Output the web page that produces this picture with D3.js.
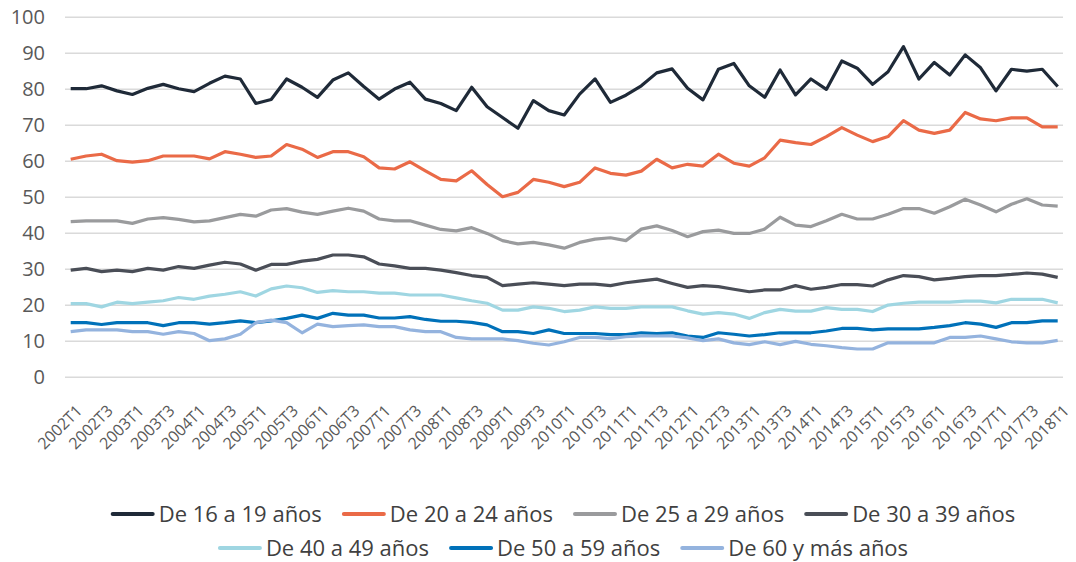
<!DOCTYPE html>
<html>
<head>
<meta charset="utf-8">
<script src="https://cdn.jsdelivr.net/npm/d3@7"></script>
<style>
  html, body { margin: 0; padding: 0; background: #ffffff; }
  svg { display: block; font-family: "Open Sans", "Noto Sans", sans-serif; }
</style>
</head>
<body>
<svg id="chart" width="1076" height="562"></svg>
<script>
// Quarterly periods, 2002T1 .. 2018T1
const quarters = [
  "2002T1","2002T2","2002T3","2002T4","2003T1","2003T2","2003T3","2003T4",
  "2004T1","2004T2","2004T3","2004T4","2005T1","2005T2","2005T3","2005T4",
  "2006T1","2006T2","2006T3","2006T4","2007T1","2007T2","2007T3","2007T4",
  "2008T1","2008T2","2008T3","2008T4","2009T1","2009T2","2009T3","2009T4",
  "2010T1","2010T2","2010T3","2010T4","2011T1","2011T2","2011T3","2011T4",
  "2012T1","2012T2","2012T3","2012T4","2013T1","2013T2","2013T3","2013T4",
  "2014T1","2014T2","2014T3","2014T4","2015T1","2015T2","2015T3","2015T4",
  "2016T1","2016T2","2016T3","2016T4","2017T1","2017T2","2017T3","2017T4",
  "2018T1"
];

// Only every second quarter is labelled on the axis
const xTickLabels = [
  "2002T1","2002T3","2003T1","2003T3","2004T1","2004T3","2005T1","2005T3",
  "2006T1","2006T3","2007T1","2007T3","2008T1","2008T3","2009T1","2009T3",
  "2010T1","2010T3","2011T1","2011T3","2012T1","2012T3","2013T1","2013T3",
  "2014T1","2014T3","2015T1","2015T3","2016T1","2016T3","2017T1","2017T3",
  "2018T1"
];

const yTicks = [0, 10, 20, 30, 40, 50, 60, 70, 80, 90, 100];

const seriesNames = [
  "De 16 a 19 años", "De 20 a 24 años", "De 25 a 29 años", "De 30 a 39 años",
  "De 40 a 49 años", "De 50 a 59 años", "De 60 y más años"
];

const seriesColors = ["#1f2a38", "#ea6a47", "#9a9b9d", "#4a4e57", "#9fd6e2", "#0071b9", "#94b3de"];

const age16to19 = [
  80,80,80.8,79.4,78.4,80.1,81.2,80,79.2,81.5,
  83.5,82.7,75.9,77,82.7,80.4,77.6,82.4,84.4,80.6,
  77.1,79.9,81.8,77.1,75.9,73.9,80.4,75,72,69,
  76.7,73.9,72.7,78.5,82.7,76.2,78.2,80.8,84.4,85.5,
  80.1,76.9,85.4,87,80.8,77.6,85.2,78.3,82.7,79.8,
  87.7,85.7,81.2,84.7,91.7,82.7,87.3,83.8,89.4,85.8,
  79.4,85.4,84.9,85.4,80.6
];

const age20to24 = [
  60.4,61.3,61.8,60,59.6,60,61.3,61.3,61.3,60.5,
  62.5,61.8,60.9,61.3,64.5,63.2,60.9,62.5,62.5,61.1,
  58,57.7,59.7,57.2,54.8,54.4,57.2,53.4,50,51.2,
  54.8,54,52.8,54,58,56.5,56,57.1,60.4,58,
  59,58.5,61.8,59.3,58.5,60.8,65.7,65,64.5,66.7,
  69.2,67.1,65.3,66.7,71.1,68.5,67.6,68.5,73.4,71.6,
  71.1,71.9,71.9,69.4,69.4
];

const age25to29 = [
  43.1,43.3,43.3,43.3,42.6,43.8,44.2,43.7,43,43.3,
  44.2,45.1,44.6,46.3,46.7,45.7,45.1,46,46.8,46,
  43.8,43.3,43.3,42.1,40.9,40.5,41.4,39.8,37.8,36.9,
  37.3,36.6,35.7,37.3,38.2,38.6,37.8,41,41.9,40.6,
  38.9,40.3,40.7,39.8,39.8,41,44.3,42.1,41.7,43.3,
  45.1,43.8,43.8,45.1,46.7,46.7,45.4,47.2,49.3,47.7,
  45.8,47.9,49.4,47.7,47.4
];

const age30to39 = [
  29.6,30.1,29.2,29.6,29.2,30.1,29.6,30.6,30.1,31,
  31.8,31.3,29.6,31.2,31.2,32.1,32.6,33.8,33.8,33.3,
  31.3,30.8,30.1,30.1,29.6,28.9,28.1,27.6,25.3,25.7,
  26.1,25.7,25.3,25.7,25.7,25.3,26.1,26.6,27.1,25.9,
  24.8,25.3,25,24.3,23.6,24.1,24.1,25.3,24.3,24.8,
  25.6,25.6,25.2,26.9,28.1,27.8,26.9,27.3,27.8,28.1,
  28.1,28.4,28.8,28.5,27.6
];

const age40to49 = [
  20.3,20.3,19.4,20.7,20.3,20.7,21.1,22,21.5,22.4,
  22.9,23.6,22.4,24.4,25.2,24.7,23.4,23.9,23.6,23.6,
  23.2,23.2,22.7,22.7,22.7,21.9,21.1,20.4,18.5,18.5,
  19.4,19,18.1,18.5,19.4,19,19,19.4,19.4,19.4,
  18.3,17.4,17.8,17.4,16.2,17.8,18.7,18.2,18.2,19.2,
  18.7,18.7,18.1,19.9,20.4,20.7,20.7,20.7,21,21,
  20.5,21.5,21.5,21.5,20.5
];

const age50to59 = [
  15,15,14.5,15,15,15,14.2,15,15,14.6,
  15,15.5,15,15.5,16.2,17.1,16.2,17.6,17.1,17.1,
  16.3,16.3,16.7,15.9,15.4,15.4,15.1,14.4,12.5,12.5,
  12,13,12,12,12,11.7,11.7,12.2,12,12.2,
  11.3,10.9,12.2,11.8,11.3,11.7,12.2,12.2,12.2,12.7,
  13.4,13.4,13,13.3,13.3,13.3,13.7,14.2,15,14.6,
  13.7,15,15,15.5,15.5
];

const age60plus = [
  12.5,13,13,13,12.5,12.5,11.8,12.5,12,10,
  10.5,11.8,15,15.7,15,12.2,14.6,13.9,14.2,14.4,
  13.9,13.9,13,12.5,12.5,10.9,10.5,10.5,10.5,10,
  9.3,8.8,9.7,10.9,10.9,10.6,11.1,11.3,11.3,11.3,
  10.8,10,10.5,9.4,8.9,9.7,8.9,9.8,9,8.6,
  8.1,7.7,7.7,9.4,9.4,9.4,9.4,10.9,10.9,11.3,
  10.5,9.7,9.4,9.4,10.1
];

const seriesValues = [age16to19, age20to24, age25to29, age30to39, age40to49, age50to59, age60plus];

const series = seriesNames.map((name, i) => ({
  name,
  color: seriesColors[i],
  points: quarters.map((q, j) => ({ q, v: seriesValues[i][j] }))
}));

// ---- layout
const gridLeft = 65, gridRight = 1063;
const plotTop = 16.7, plotBottom = 376.7;

const svg = d3.select("#chart");

const x = d3.scalePoint().domain(quarters).range([70.7, 1057.7]);
const y = d3.scaleLinear().domain([0, 100]).range([plotBottom, plotTop]);

// y axis with horizontal gridlines
const yAxis = svg.append("g")
  .attr("transform", `translate(${gridLeft},0)`)
  .call(d3.axisLeft(y).tickValues(yTicks).tickSize(-(gridRight - gridLeft)).tickPadding(20));
yAxis.select(".domain").remove();
yAxis.selectAll(".tick line").attr("stroke", "#dadada").attr("stroke-width", 1.5);
yAxis.selectAll(".tick text")
  .attr("fill", "#595959")
  .style("font-size", "20px")
  .style("font-family", "'Open Sans', sans-serif");

// x axis: quarter labels turned 45 degrees
const xAxis = svg.append("g")
  .attr("transform", `translate(0,${plotBottom})`)
  .call(d3.axisBottom(x).tickValues(xTickLabels).tickSize(0).tickPadding(0));
xAxis.select(".domain").remove();
xAxis.selectAll(".tick text")
  .attr("fill", "#595959")
  .style("font-size", "16px")
  .style("font-family", "'Open Sans', sans-serif")
  .attr("text-anchor", "end")
  .attr("dy", null)
  .attr("y", 0)
  .attr("transform", "translate(12,35) rotate(-45)");

// series lines
const line = d3.line()
  .x(d => x(d.q))
  .y(d => y(d.v));

svg.append("g")
  .selectAll("path")
  .data(series)
  .join("path")
  .attr("fill", "none")
  .attr("stroke", d => d.color)
  .attr("stroke-width", 3.2)
  .attr("stroke-linejoin", "round")
  .attr("d", d => line(d.points));

// legend, two centred rows
const legendRows = [[0, 1, 2, 3], [4, 5, 6]];
const legendY = [514, 548];
const legendCenter = 564;
const swatchW = 40, swatchGap = 6, itemGap = 22;

const legend = svg.append("g");
legendRows.forEach((row, r) => {
  const rowG = legend.append("g");
  let cx = 0;
  row.forEach(idx => {
    const item = rowG.append("g").attr("transform", `translate(${cx},0)`);
    item.append("line")
      .attr("x1", 0).attr("x2", swatchW)
      .attr("y1", 0).attr("y2", 0)
      .attr("stroke", seriesColors[idx])
      .attr("stroke-width", 4)
      .attr("stroke-linecap", "round");
    const t = item.append("text")
      .attr("x", swatchW + swatchGap)
      .attr("y", 0)
      .attr("dy", "0.35em")
      .attr("fill", "#404040")
      .style("font-size", "22px")
      .style("font-family", "'Open Sans', sans-serif")
      .text(seriesNames[idx]);
    cx += swatchW + swatchGap + t.node().getComputedTextLength() + itemGap;
  });
  const total = cx - itemGap;
  rowG.attr("transform", `translate(${legendCenter - total / 2},${legendY[r]})`);
});
</script>
</body>
</html>
